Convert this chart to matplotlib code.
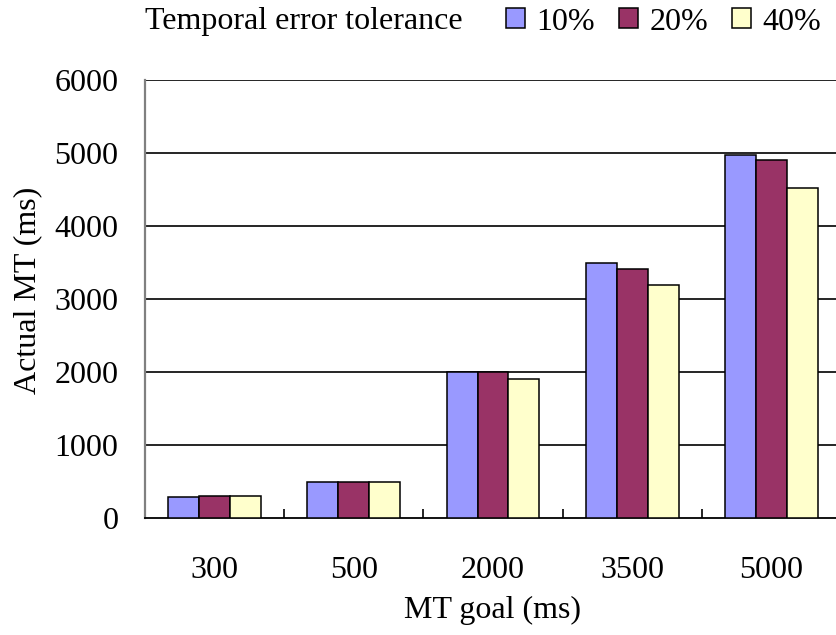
import matplotlib
matplotlib.use("Agg")
import matplotlib.pyplot as plt
import numpy as np

categories = ["300", "500", "2000", "3500", "5000"]
series_names = ["10%", "20%", "40%"]
tol_10 = [285, 490, 2000, 3500, 4970]
tol_20 = [305, 490, 2000, 3410, 4900]
tol_40 = [305, 490, 1900, 3190, 4520]
colors = ["#9999FF", "#993366", "#FFFFCC"]
yticks = [0, 1000, 2000, 3000, 4000, 5000, 6000]

FS = 23
W, H = 837, 635
plt.rcParams['font.family'] = ['Liberation Serif', 'DejaVu Serif']
fig = plt.figure(figsize=(W / 100, H / 100), dpi=100)
left, right, bottom, top = 145, 841, 518, 80
ax = fig.add_axes([left / W, (H - bottom) / H, (right - left) / W, (bottom - top) / H])

x = np.arange(len(categories))
bw = 1 / 4.5
handles = []
for i, (vals, c) in enumerate(zip([tol_10, tol_20, tol_40], colors)):
    b = ax.bar(x + (i - 1) * bw, vals, width=bw, color=c, edgecolor="black",
               linewidth=1.1, zorder=3)
    handles.append(b)

ax.set_xlim(-0.5, len(categories) - 0.5)
ax.set_ylim(0, 6000)
ax.set_yticks(yticks)
ax.set_yticklabels([str(v) for v in yticks], fontsize=FS)
ax.tick_params(axis='y', length=0, pad=19)
for v in yticks[1:]:
    ax.axhline(v, color="black", linewidth=1.2, zorder=1)

ax.set_xticks(x)
ax.set_xticklabels(categories, fontsize=FS)
ax.tick_params(axis='x', length=0, pad=27)
ax.set_xticks(np.arange(len(categories) + 1) - 0.5, minor=True)
ax.tick_params(axis='x', which='minor', direction='in', length=6.5, width=1.2, color='black')

for s in ["top", "right"]:
    ax.spines[s].set_visible(False)
ax.spines["left"].set_color("#808080")
ax.spines["left"].set_linewidth(1.6)
ax.spines["bottom"].set_color("black")
ax.spines["bottom"].set_linewidth(1.3)

ax.set_xlabel("MT goal (ms)", fontsize=FS, labelpad=8)
ax.set_ylabel("Actual MT (ms)", fontsize=FS)
ax.yaxis.label.set_va("center")
ax.yaxis.set_label_coords(-(left - 28) / (right - left), (bottom - 290) / (bottom - top))

fig.text(145 / W, 1 - 21 / H, "Temporal error tolerance", fontsize=FS, ha="left", va="center")
fig.legend(handles, series_names, ncol=3, loc="center left",
           bbox_to_anchor=(506 / W, 1 - 22 / H), frameon=False, fontsize=FS,
           handlelength=0.6, handleheight=0.6, handletextpad=0.35,
           columnspacing=0.75, borderpad=0, borderaxespad=0)

fig.savefig("out.png", dpi=100)
